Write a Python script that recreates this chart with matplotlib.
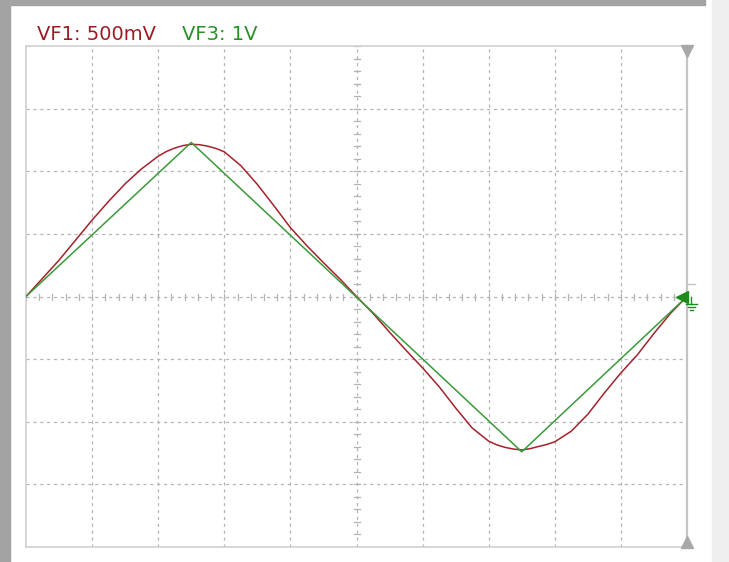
import matplotlib
matplotlib.use("Agg")
import matplotlib.pyplot as plt
from matplotlib.lines import Line2D
from matplotlib.patches import Rectangle

# ---- data (time in divisions, 10 div screen) ----
vf1_t = [0.0, 0.25, 0.5, 0.75, 1.0, 1.25, 1.5, 1.75, 2.0, 2.125, 2.25, 2.375, 2.5,
         2.625, 2.75, 2.875, 3.0, 3.25, 3.5, 3.75, 4.0, 4.25, 4.5, 4.75, 5.0,
         5.25, 5.5, 5.75, 6.0, 6.25, 6.5, 6.75, 7.0, 7.125, 7.25, 7.375, 7.5,
         7.625, 7.75, 7.875, 8.0, 8.25, 8.5, 8.75, 9.0, 9.25, 9.5, 9.75, 10.0]
vf1_mv = [0, 145, 290, 450, 610, 760, 900, 1020, 1120, 1158, 1185, 1205, 1215,
          1212, 1200, 1182, 1155, 1045, 895, 725, 550, 405, 270, 140, 0,
          -135, -285, -430, -570, -720, -890, -1050, -1155, -1185, -1205, -1218, -1225,
          -1215, -1198, -1182, -1160, -1075, -940, -770, -610, -465, -295, -135, 0]
vf3_t = [0.0, 2.5, 7.5, 10.0]
vf3_v = [0.0, 2.46, -2.48, 0.0]
vf1_scale_mv = 500.0
vf3_scale_v = 1.0
label_vf1 = "VF1: 500mV"
label_vf3 = "VF3: 1V"

RED = "#a3222c"
GREEN = "#3a9a3a"
GRID = "#b4b4b4"

W, H = 729, 562
fig = plt.figure(figsize=(W / 100, H / 100), dpi=100)
fig.patch.set_facecolor("white")

# window frame decorations
fig.patches.append(Rectangle((0, 0), 10 / W, 1, transform=fig.transFigure, color="#a3a3a3", zorder=0))
fig.patches.append(Rectangle((0, 1 - 5 / H), 705 / W, 5 / H, transform=fig.transFigure, color="#a3a3a3", zorder=0))
fig.patches.append(Rectangle((712 / W, 0), 17 / W, 1, transform=fig.transFigure, color="#efefef", zorder=0))

L, T, R, B = 26, 46, 687, 547
ax = fig.add_axes([L / W, 1 - B / H, (R - L) / W, (B - T) / H])
ax.set_xlim(0, 10)
ax.set_ylim(-4, 4)
ax.set_xticks([])
ax.set_yticks([])
for s in ["left", "top", "bottom"]:
    ax.spines[s].set_color("#d0d0d0")
    ax.spines[s].set_linewidth(1.2)
ax.spines["right"].set_color("#c4c4c4")
ax.spines["right"].set_linewidth(1.6)

dash = (0, (2.5, 3))
for i in range(1, 10):
    ax.axvline(i, color=GRID, lw=0.9, linestyle=dash, zorder=1)
for j in range(-3, 4):
    ax.axhline(j, color=GRID, lw=0.9, linestyle=dash, zorder=1)

# minor ticks on center axes
px_x = 10 / (R - L)
px_y = 8 / (B - T)
for k in range(51):
    xv = k * 0.2
    ax.plot([xv, xv], [-3 * px_y, 3 * px_y], color=GRID, lw=0.9, zorder=1)
for k in range(41):
    yv = -4 + k * 0.2
    ax.plot([5 - 3 * px_x, 5 + 3 * px_x], [yv, yv], color=GRID, lw=0.9, zorder=1)

# traces
ax.plot(vf1_t, [v / vf1_scale_mv for v in vf1_mv], color=RED, lw=1.1, zorder=3,
        solid_joinstyle="round")
ax.plot(vf3_t, [v / vf3_scale_v for v in vf3_v], color=GREEN, lw=1.1, zorder=4)

# edge markers
ax.plot([10], [4 - 5 * px_y], marker="v", markersize=9, color="#a8a8a8", clip_on=False, zorder=5)
ax.plot([10], [-4 + 5 * px_y], marker="^", markersize=9, color="#a8a8a8", clip_on=False, zorder=5)
ax.plot([10 - 5 * px_x], [0], marker="<", markersize=8, color="#1e8a1e", clip_on=False, zorder=6)

# ground symbol (figure pixel coords)
def fl(x0, y0, x1, y1, c="#1e8a1e", lw=1.0):
    fig.add_artist(Line2D([x0 / W, x1 / W], [1 - y0 / H, 1 - y1 / H], transform=fig.transFigure,
                          color=c, lw=lw))
fl(691, 297, 691, 304)
fl(686, 304, 697, 304)
fl(688, 307, 695, 307)
fl(690, 310, 693, 310)
fl(687, 284, 695, 284, c="#c4c4c4")

# labels
fig.text(37 / W, 1 - 40 / H, label_vf1, color="#9b1c24", fontsize=14, family="DejaVu Sans")
fig.text(182 / W, 1 - 40 / H, label_vf3, color="#2a8f2a", fontsize=14, family="DejaVu Sans")

fig.savefig("out.png", dpi=100, facecolor="white")
